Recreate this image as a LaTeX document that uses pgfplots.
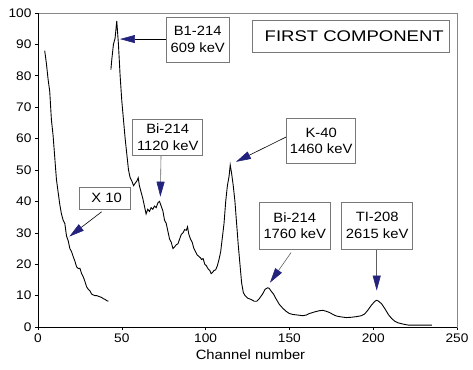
\documentclass[border=0pt]{standalone}
\usepackage{fontspec}
\setmainfont{Liberation Sans}[FakeStretch=1.1]
\newfontfamily\titlefont{Liberation Sans}[FakeStretch=1.2]
\usepackage{pgfplots}
\pgfplotsset{compat=1.18}
\usetikzlibrary{arrows.meta}
\definecolor{navyhead}{RGB}{35,35,125}
\definecolor{boxgray}{RGB}{120,120,120}
\definecolor{spinegray}{RGB}{135,135,135}
\definecolor{arrgray}{RGB}{95,95,95}
\begin{document}
\begin{tikzpicture}
\begin{axis}[
  scale only axis, width=419bp, height=314bp,
  xmin=0, xmax=250, ymin=0, ymax=100,
  xtick={0,50,...,250}, ytick={0,10,...,100},
  xtick pos=left, ytick pos=left,
  tick align=outside, major tick length=3bp,
  tick style={black, line width=0.6pt},
  axis line style={spinegray, line width=0.7pt},
  /pgf/number format/assume math mode=true,
  ticklabel style={font=\fontsize{12.5}{14}\selectfont},
  xlabel={Channel number},
  xlabel style={font=\fontsize{13.5}{15}\selectfont, yshift=-1bp, xshift=3bp},
  clip=false,
]
\draw[black, line width=0.8pt] (rel axis cs:0,1) -- (rel axis cs:0,0) -- (rel axis cs:1,0);
\coordinate (bl) at (rel axis cs:0,0);
\coordinate (tr) at (rel axis cs:1,1);

\addplot[black, line width=0.9pt] coordinates {
(4,88) (5,84) (6,79) (7,75) (8,66) (9,61) (10,54) (11,47) (12,43) (13,39) (14,36) (15,34) (16,33) (17,29) (18,27.5) (19,25) (20,24) (21,22.4) (22,21) (23,19.2) (24,18.6) (25,18.7) (26,17) (27,16) (28,14.5) (29,12.8) (30,12) (31,11.5) (32,10.5) (33,10.2) (34,10) (35,10) (36,9.8) (37,9.6) (38,9.4) (39,9) (40,8.8) (41,8.4) (42,8.2)
};

\addplot[black, line width=0.9pt] coordinates {
(43.5,82) (44,85) (45,90) (46,92) (47,97.5) (48,90) (49,80) (50,72) (51,66) (52,60) (53,55) (54,50) (55,47.5) (56,46.5) (57,45) (58,45.8) (59,46.5) (59.8,47.5) (60.5,45) (61.5,43) (62.5,41) (63.5,38.5) (64.5,36) (65.5,37.5) (66.5,36.8) (67.5,38) (68.5,37.5) (69.5,38.5) (70.5,38) (71.5,39.5) (72.5,40) (73.5,38.5) (74.5,37) (75.5,34) (76.5,33) (77.5,30.5) (78.5,28) (79.5,27) (80.5,25) (81.5,25.5) (82.5,26.2) (83.5,26.5) (84.5,28) (85.5,29.5) (86.5,30) (87.5,31) (88.5,30.8) (89.2,31.9) (90,29.5) (91,28) (92,27) (93,25) (94,24) (95,22.9) (96,22.5) (97,22) (97.5,21.5) (98.5,21.8) (99.5,20) (100.5,19.5) (101.5,18.5) (102.5,18) (103.3,17) (104,17.3) (105,18) (106,18.2) (107,19.5) (108,21.5) (109,24) (110,28.5) (111,33) (112,40) (113,45) (114,48) (114.7,51.6) (115.5,49) (116.5,45) (117.5,40) (118.5,33) (119.5,26) (120.5,20) (121.5,14) (122.5,11) (123.5,10) (125,9.2) (127,8.8) (129,8.2) (130.5,8.2) (132,9) (134,10.5) (135.5,12) (137,12.5) (138,12.3) (139,11.5) (140.5,10.5) (142,9) (144,7.2) (146,6) (148,5) (150,4.3) (152,4) (155,3.8) (158,3.6) (160,3.8) (162,4.3) (165,4.8) (168,5.2) (170,5.3) (172,5) (174,4.6) (176,4) (178,3.5) (181,3.2) (184,3) (187,3.1) (190,3.3) (193,3.6) (195,4.2) (197,5.5) (199,7) (201,8.2) (202,8.5) (203,8.3) (205,7.4) (207,5.8) (209,4) (211,2.7) (213,1.8) (215,1.3) (218,0.9) (221,0.6) (235,0.6)
};

\tikzset{
  lbl/.style={draw=boxgray, line width=0.6pt, fill=white, align=center,
     font=\fontsize{13.5}{16.7}\selectfont, inner xsep=3bp, inner ysep=0bp},
  arr/.style={line width=0.6pt, -{Triangle[length=15bp,width=8bp,color=navyhead]}},
}
% arrows
\draw[arr, black] (axis cs:76.4,91.7) -- (axis cs:48.9,91.7);
\draw[arr, arrgray] (axis cs:73.4,54.7) -- (axis cs:73,41.5);
\draw[arr, black] (axis cs:38,36.7) -- (axis cs:18.7,28.8);
\draw[arr, black] (axis cs:148.4,60.6) -- (axis cs:118.1,52.6);
\draw[arr, arrgray] (axis cs:151,23.7) -- (axis cs:138.4,14.1);
\draw[arr, arrgray] (axis cs:202.1,24.8) -- (axis cs:202.1,11.6);

% boxes
\node[lbl, minimum width=63bp, minimum height=45bp] at (axis cs:95.3,91.5) {B1-214\\609 keV};
\node[lbl, minimum width=70bp, minimum height=36bp] at (axis cs:77.4,60.4) {Bi-214\\1120 keV};
\node[lbl, minimum width=51bp, minimum height=22bp] at (axis cs:39.8,41.0) {\hspace*{4bp}X 10};
\node[lbl, minimum width=69bp, minimum height=45bp] at (axis cs:169.0,59.3) {K-40\\1460 keV};
\node[lbl, minimum width=71bp, minimum height=47bp] at (axis cs:153.2,32.3) {Bi-214\\1760 keV};
\node[lbl, minimum width=71bp, minimum height=47bp] at (axis cs:202.4,32.3) {TI-208\\2615 keV};
\node[draw=boxgray, line width=0.6pt, fill=white, minimum width=197bp, minimum height=31.6bp, inner sep=0pt,
  font=\titlefont\fontsize{15.5}{17}\selectfont] at (axis cs:186.9,92.5) {\hspace*{6bp}FIRST COMPONENT};
\end{axis}
\pgfresetboundingbox
\path[use as bounding box] ([xshift=-38bp,yshift=-43bp]bl) rectangle ([xshift=16bp,yshift=13bp]tr);
\end{tikzpicture}
\end{document}
